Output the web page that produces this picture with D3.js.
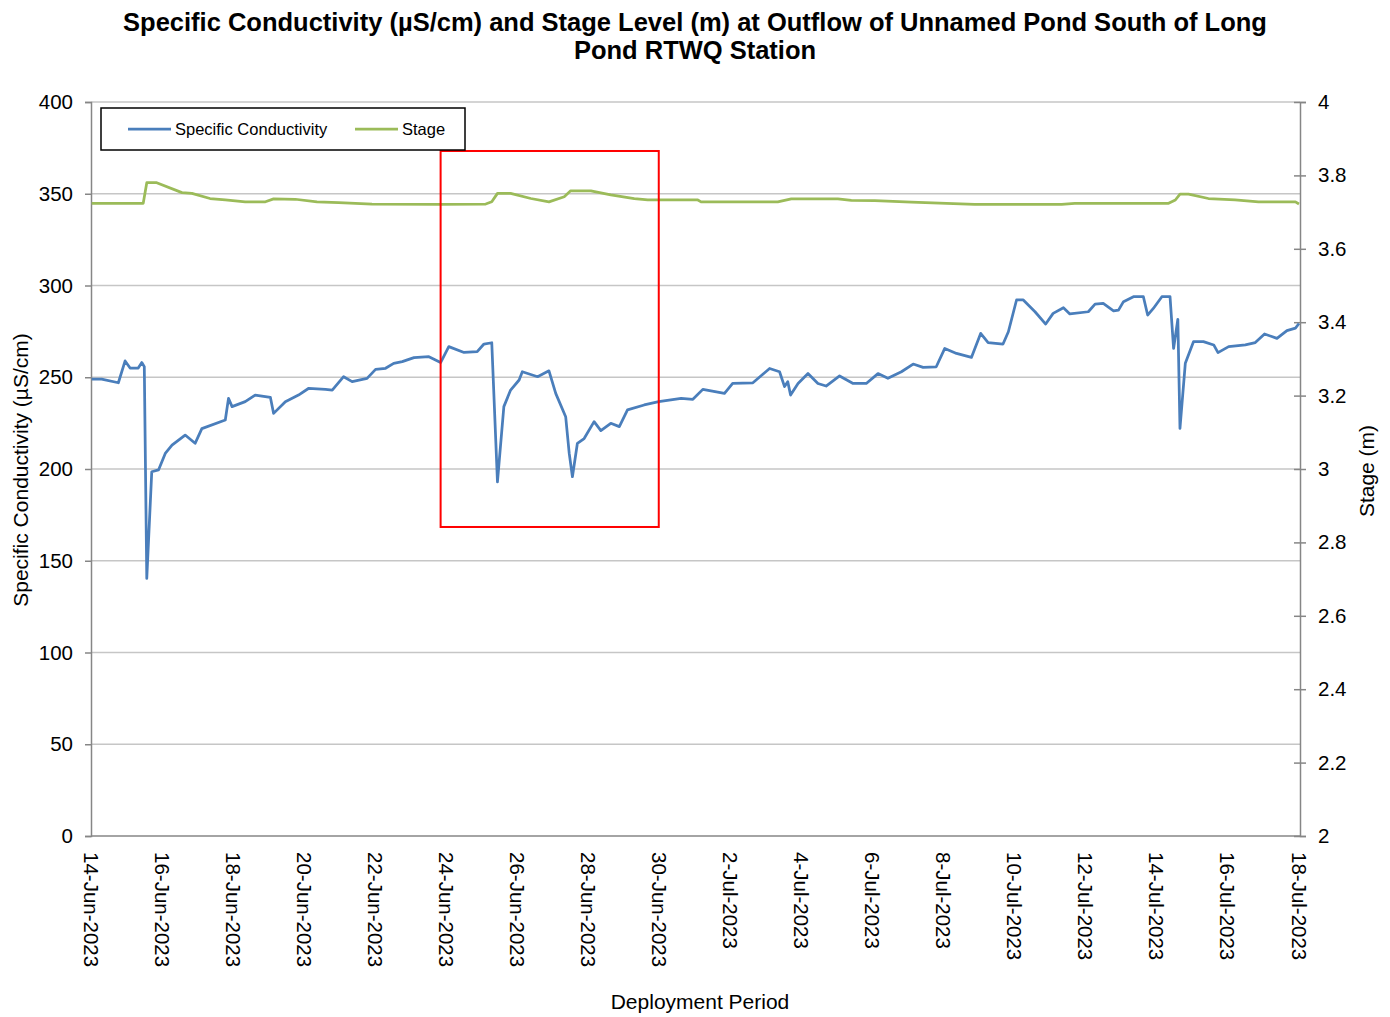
<!DOCTYPE html>
<html>
<head>
<meta charset="utf-8">
<script src="https://cdn.jsdelivr.net/npm/d3@7"></script>
<style>
  body { margin: 0; background: #fff; }
  text { font-family: "Liberation Sans", Arial, sans-serif; fill: #000; }
</style>
</head>
<body>
<svg width="1390" height="1017"></svg>
<script>
var svg = d3.select("svg");

// deployment start, everything below is in days from it
var startDate = new Date(2023, 5, 14);
var endDate = new Date(2023, 6, 18);

var condDays = [0.02, 0.30, 0.77, 0.96, 1.10, 1.33, 1.43, 1.50, 1.57, 1.71, 1.90, 2.09, 2.28, 2.65, 2.93,
  3.12, 3.78, 3.87, 3.97, 4.34, 4.62, 5.05, 5.14, 5.47, 5.84, 6.13, 6.60, 6.79, 7.11, 7.35, 7.77,
  8.01, 8.29, 8.52, 8.76, 9.09, 9.51, 9.84, 10.07, 10.50, 10.87, 11.06, 11.28, 11.44, 11.62, 11.81,
  12.05, 12.14, 12.57, 12.89, 13.08, 13.36, 13.46, 13.55, 13.69, 13.88, 14.16, 14.35, 14.63, 14.87,
  15.10, 15.57, 15.98, 16.61, 16.94, 17.22, 17.83, 18.06, 18.63, 19.10, 19.38, 19.52, 19.61, 19.69,
  19.90, 20.18, 20.46, 20.69, 21.07, 21.45, 21.82, 22.15, 22.43, 22.81, 23.14, 23.42, 23.79, 24.03,
  24.36, 24.78, 25.04, 25.25, 25.67, 25.82, 26.05, 26.24, 26.57, 26.87, 27.08, 27.37, 27.55, 28.07,
  28.26, 28.49, 28.78, 28.92, 29.06, 29.34, 29.62, 29.74, 29.90, 30.14, 30.37, 30.47, 30.59, 30.65,
  30.80, 31.03, 31.31, 31.60, 31.72, 32.02, 32.49, 32.77, 33.03, 33.38, 33.66, 33.90, 34.0];
var condValues = [249, 249, 247, 258.9, 255, 255, 258, 255.8, 140.4, 198.5, 199.5, 208.5, 213, 218.5, 214,
  222, 226.7, 238.5, 234, 236.7, 240.3, 239, 230.3, 236.7, 240.3, 244, 243.4, 243, 250.3, 247.6, 249.4,
  254.3, 254.9, 257.6, 258.5, 260.7, 261.2, 258, 266.7, 263.5, 264, 268.1, 268.8, 193, 234, 243,
  248.5, 253, 250.3, 253.5, 241.2, 228.5, 208.5, 195.8, 214, 216.6, 225.8, 220.9, 224.9, 223.1,
  232.2, 234.9, 236.7, 238.5, 238, 243.4, 241.2, 246.6, 247, 254.8, 253, 244.9, 247.6, 240.3,
  246.6, 252, 246.6, 245.2, 250.7, 246.6, 246.6, 252, 249.4, 253, 257.2, 255.4, 255.7, 265.7,
  263, 260.8, 273.9, 268.9, 268.1, 274.8, 292.1, 292.1, 285.7, 279, 284.8, 287.9, 284.5, 285.7,
  289.9, 290.2, 286.2, 286.6, 291.2, 293.9, 293.9, 283.9, 287.5, 293.9, 293.9, 265.7, 281.6, 222.1,
  257.6, 269.4, 269.4, 267.6, 263.4, 266.7, 267.6, 268.9, 273.6, 271.2, 275.4, 276.8, 279.3];

var stageDays = [0.02, 1.47, 1.57, 1.85, 2.56, 2.84, 3.35, 3.78, 4.34, 4.91, 5.14, 5.75, 6.36, 6.97, 7.91,
  9.79, 11.11, 11.28, 11.44, 11.81, 12.38, 12.89, 13.32, 13.50, 14.07, 14.63, 15.29, 15.67, 17.08,
  17.17, 19.33, 19.71, 21.02, 21.40, 22.06, 23.09, 24.87, 27.32, 27.69, 30.33, 30.52, 30.65, 30.89,
  31.45, 32.20, 32.86, 33.90, 34.0];
var stageValues = [3.724, 3.724, 3.780, 3.780, 3.753, 3.751, 3.737, 3.733, 3.728, 3.728, 3.736, 3.735, 3.728, 3.726, 3.722,
  3.721, 3.722, 3.728, 3.751, 3.751, 3.737, 3.728, 3.742, 3.758, 3.758, 3.747, 3.737, 3.733, 3.733,
  3.728, 3.728, 3.736, 3.736, 3.732, 3.731, 3.727, 3.721, 3.721, 3.724, 3.724, 3.733, 3.749, 3.749,
  3.737, 3.733, 3.728, 3.728, 3.722];

var condTicks = [0, 50, 100, 150, 200, 250, 300, 350, 400];
var stageTicks = [2, 2.2, 2.4, 2.6, 2.8, 3, 3.2, 3.4, 3.6, 3.8, 4];
var dateTickDays = [0, 2, 4, 6, 8, 10, 12, 14, 16, 18, 20, 22, 24, 26, 28, 30, 32, 34];

// red highlight box (days, conductivity units)
var boxDays = [9.84, 15.98];
var boxCond = [168.4, 373.3];

var blue = "#4a7ebb";
var green = "#9bbb59";
var axisGrey = "#868686";

function dayToDate(d) {
  return new Date(startDate.getTime() + d * 864e5);
}

var plotLeft = 91, plotRight = 1299, plotTop = 102, plotBottom = 836;

var x = d3.scaleTime().domain([startDate, endDate]).range([plotLeft, plotRight]);
var yCond = d3.scaleLinear().domain([0, 400]).range([plotBottom, plotTop]);
var yStage = d3.scaleLinear().domain([2, 4]).range([plotBottom, plotTop]);

// gridlines
svg.append("g").selectAll("line")
  .data(condTicks.filter(t => t > 0))
  .enter().append("line")
  .attr("x1", plotLeft).attr("x2", plotRight + 1)
  .attr("y1", d => yCond(d)).attr("y2", d => yCond(d))
  .attr("stroke", "#c6c6c6").attr("stroke-width", 1.5);

// left axis
var gLeft = svg.append("g").attr("transform", "translate(" + plotLeft + ",0)")
  .call(d3.axisLeft(yCond).tickValues(condTicks).tickSize(6).tickPadding(12).tickFormat(d3.format("d")));
gLeft.select(".domain").attr("stroke", axisGrey).attr("stroke-width", 1.5);
gLeft.selectAll(".tick line").attr("stroke", axisGrey).attr("stroke-width", 1.5);
gLeft.selectAll("text").style("font-size", "20.5px").style("font-family", "Liberation Sans, Arial");

// right axis, ticks cross the line
var gRight = svg.append("g").attr("transform", "translate(" + (plotRight + 1) + ",0)")
  .call(d3.axisRight(yStage).tickValues(stageTicks).tickSize(6).tickPadding(12).tickFormat(d => String(+d.toFixed(1))));
gRight.select(".domain").attr("stroke", axisGrey).attr("stroke-width", 1.5);
gRight.selectAll(".tick line").attr("x1", -6).attr("stroke", axisGrey).attr("stroke-width", 1.5);
gRight.selectAll("text").style("font-size", "20.5px").style("font-family", "Liberation Sans, Arial");

// bottom axis line and rotated date labels
svg.append("line")
  .attr("x1", plotLeft).attr("x2", plotRight + 1)
  .attr("y1", plotBottom).attr("y2", plotBottom)
  .attr("stroke", axisGrey).attr("stroke-width", 1.5);

var dateTicks = dateTickDays.map(d => d3.timeDay.offset(startDate, d));
var fmt = d3.timeFormat("%-d-%b-%Y");
svg.append("g").selectAll("text")
  .data(dateTicks)
  .enter().append("text")
  .attr("transform", d => "translate(" + (x(d) - 7.5) + "," + (plotBottom + 16) + ") rotate(90)")
  .attr("text-anchor", "start")
  .style("font-size", "20.5px")
  .text(d => fmt(d));

// lines
var condLine = d3.line()
  .x((d, i) => x(dayToDate(condDays[i])))
  .y(d => yCond(d));
var stageLine = d3.line()
  .x((d, i) => x(dayToDate(stageDays[i])))
  .y(d => yStage(d));

svg.append("path")
  .attr("d", stageLine(stageValues))
  .attr("fill", "none").attr("stroke", green).attr("stroke-width", 2.75)
  .attr("stroke-linejoin", "round");
svg.append("path")
  .attr("d", condLine(condValues))
  .attr("fill", "none").attr("stroke", blue).attr("stroke-width", 2.75)
  .attr("stroke-linejoin", "round");

// highlight box
svg.append("rect")
  .attr("x", x(dayToDate(boxDays[0])))
  .attr("y", yCond(boxCond[1]))
  .attr("width", x(dayToDate(boxDays[1])) - x(dayToDate(boxDays[0])))
  .attr("height", yCond(boxCond[0]) - yCond(boxCond[1]))
  .attr("fill", "none").attr("stroke", "#ff0000").attr("stroke-width", 2);

// legend
var legend = svg.append("g").attr("transform", "translate(101,108)");
legend.append("rect")
  .attr("width", 364).attr("height", 42)
  .attr("fill", "#fff").attr("stroke", "#000").attr("stroke-width", 1.5);
var legendItems = [
  { name: "Specific Conductivity", color: blue, x: 27 },
  { name: "Stage", color: green, x: 254 }
];
legendItems.forEach(function(item) {
  legend.append("line")
    .attr("x1", item.x).attr("x2", item.x + 43)
    .attr("y1", 21).attr("y2", 21)
    .attr("stroke", item.color).attr("stroke-width", 2.75);
  legend.append("text")
    .attr("x", item.x + 47).attr("y", 26.5)
    .style("font-size", "16.5px")
    .text(item.name);
});

// titles
svg.append("text")
  .attr("x", 695).attr("y", 31)
  .attr("text-anchor", "middle")
  .style("font-size", "25.5px").style("font-weight", "bold")
  .text("Specific Conductivity (µS/cm) and Stage Level (m) at Outflow of Unnamed Pond South of Long");
svg.append("text")
  .attr("x", 695).attr("y", 59)
  .attr("text-anchor", "middle")
  .style("font-size", "25.5px").style("font-weight", "bold")
  .text("Pond RTWQ Station");

svg.append("text")
  .attr("transform", "translate(28,470) rotate(-90)")
  .attr("text-anchor", "middle")
  .style("font-size", "21px")
  .text("Specific Conductivity (µS/cm)");

svg.append("text")
  .attr("transform", "translate(1374,471) rotate(-90)")
  .attr("text-anchor", "middle")
  .style("font-size", "21px")
  .text("Stage (m)");

svg.append("text")
  .attr("x", 700).attr("y", 1009)
  .attr("text-anchor", "middle")
  .style("font-size", "21px")
  .text("Deployment Period");
</script>
</body>
</html>
